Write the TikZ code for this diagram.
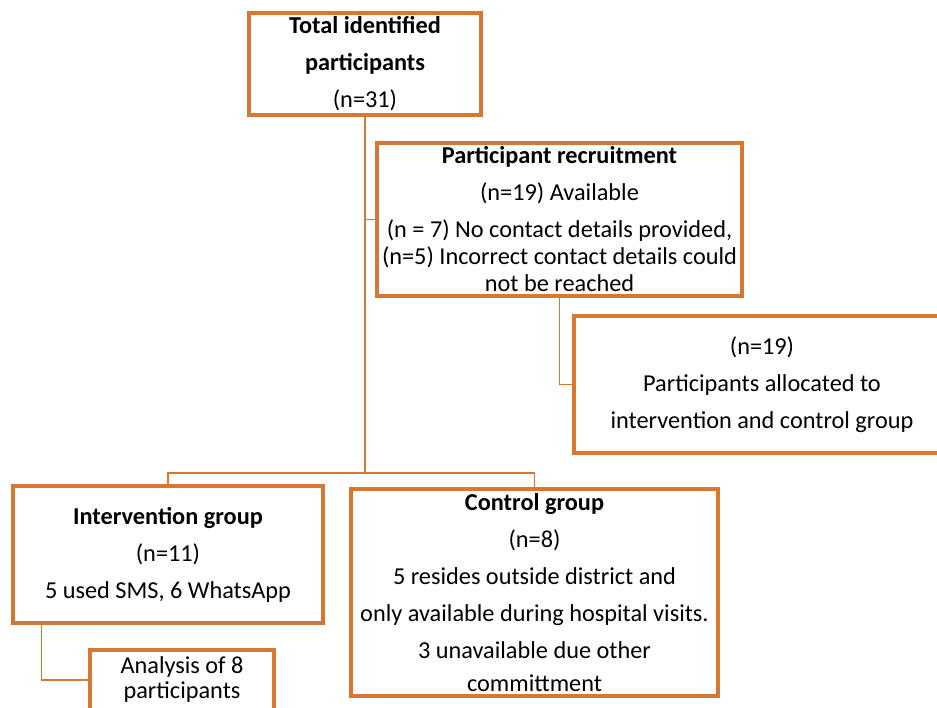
\documentclass[tikz,border=0pt]{standalone}
\usepackage{fontspec}
\setmainfont{Carlito}
\definecolor{boxor}{RGB}{214,120,50}
\begin{document}
\begin{tikzpicture}[x=1pt,y=-1pt,
  box/.style={draw=boxor,line width=3.2pt,fill=white,align=center,inner sep=0pt,
    font=\fontsize{24.3}{37}\selectfont},
  conn/.style={draw=boxor,line width=1.8pt}]
\useasboundingbox[fill=white] (0,0) rectangle (937,707);
\node[box,minimum width=232,minimum height=102] (tot) at (365,64)
  {\textbf{Total identified}\\\textbf{participants}\\(n=31)};
\node[box,minimum width=365,minimum height=153] (rec) at (559.5,219.5)
  {\textbf{Participant recruitment}\\(n=19) Available\\(n = 7) No contact details provided,\\[-10pt](n=5) Incorrect contact details could\\[-10pt]not be reached};
\node[box,minimum width=376,minimum height=137] (alloc) at (762,384.5)
  {(n=19)\\Participants allocated to\\intervention and control group};
\coordinate (j) at (365,473);
\node[box,minimum width=310,minimum height=137] (int) at (168,554.5)
  {\textbf{Intervention group}\\(n=11)\\5 used SMS, 6 WhatsApp};
\node[box,minimum width=367,minimum height=207] (ctl) at (534.5,592.5)
  {\textbf{Control group}\\(n=8)\\5 resides outside district and\\only available during hospital visits.\\3 unavailable due other\\[-4pt]committment};
\node[box,minimum width=184,minimum height=60] (ana) at (182,680)
  {Analysis of 8\\[-12pt]participants};
\draw[conn] (tot.south) -- (j);
\draw[conn] (rec.west -| tot.south) -- (rec.west);
\draw[conn] (rec.south) |- (alloc.west);
\draw[conn] (j) -| (int.north);
\draw[conn] (j) -| (ctl.north);
\draw[conn] ([xshift=30pt]int.south west) |- (ana.west);
\end{tikzpicture}
\end{document}
